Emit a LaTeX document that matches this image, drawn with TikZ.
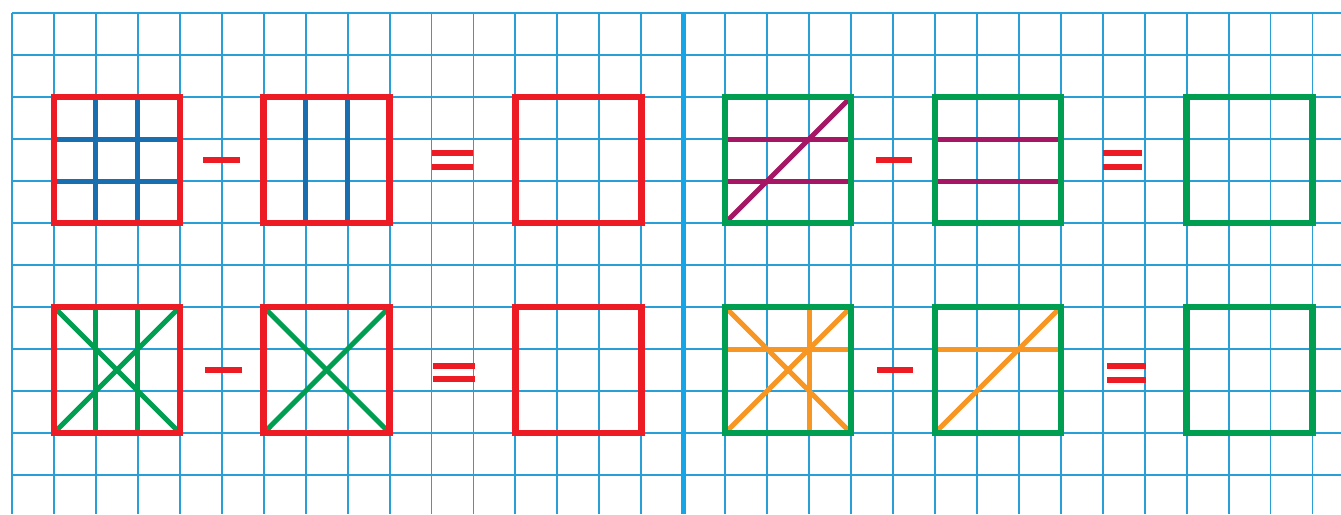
\documentclass[tikz,border=0pt]{standalone}
\usetikzlibrary{calc}
\definecolor{gridc}{RGB}{40,160,215}
\definecolor{divc}{RGB}{22,166,232}
\definecolor{redc}{RGB}{237,28,36}
\definecolor{greenc}{RGB}{0,158,80}
\definecolor{bluec}{RGB}{25,110,175}
\definecolor{magc}{RGB}{165,22,100}
\definecolor{orac}{RGB}{247,150,35}
\tikzset{
  gridline/.style={draw=gridc, line width=1.9pt},
  divider/.style={draw=divc, line width=5pt},
  redbox/.style={draw=redc, line width=6.5pt},
  greenbox/.style={draw=greenc, line width=6.5pt},
  inner/.style={line width=5pt},
  sign/.style={draw=redc, line width=6pt},
}
\begin{document}
\begin{tikzpicture}[x=41.95pt, y=-42pt]
\useasboundingbox (-0.286,-0.3095) rectangle (31.68,11.93);
\fill[white] (-0.286,-0.3095) rectangle (31.68,11.93);
% grid
\foreach \i in {0,...,31} { \draw[gridline] (\i,0) -- (\i,11.93); }
\foreach \j in {0,...,11} { \draw[gridline] (0,\j) -- (31.68,\j); }
\coordinate (dtop) at (16,0);
\coordinate (dbot) at (16,11.93);
\draw[divider] (dtop) -- (dbot);

% ---------- left, row 1 ----------
\coordinate (A1) at (1,2); \coordinate (A2) at (4,5);
\draw[inner, bluec] (2,2) -- (2,5); \draw[inner, bluec] (3,2) -- (3,5);
\draw[inner, bluec] (1,3) -- (4,3); \draw[inner, bluec] (1,4) -- (4,4);
\draw[redbox] (A1) rectangle (A2);
\coordinate (mA1) at (4.56,3.5); \coordinate (mA2) at (5.44,3.5);
\draw[sign] (mA1) -- (mA2);
\coordinate (B1) at (6,2); \coordinate (B2) at (9,5);
\draw[inner, bluec] (7,2) -- (7,5); \draw[inner, bluec] (8,2) -- (8,5);
\draw[redbox] (B1) rectangle (B2);
\coordinate (eA1) at (10,3.333); \coordinate (eA2) at (11,3.333);
\coordinate (eA3) at (10,3.667); \coordinate (eA4) at (11,3.667);
\draw[sign] (eA1) -- (eA2); \draw[sign] (eA3) -- (eA4);
\coordinate (C1) at (12,2); \coordinate (C2) at (15,5);
\draw[redbox] (C1) rectangle (C2);

% ---------- left, row 2 ----------
\coordinate (D1) at (1,7); \coordinate (D2) at (4,10);
\draw[inner, greenc, shorten <=2pt, shorten >=2pt] (1,7) -- (4,10);
\draw[inner, greenc, shorten <=2pt, shorten >=2pt] (1,10) -- (4,7);
\draw[inner, greenc] (2,7) -- (2,10); \draw[inner, greenc] (3,7) -- (3,10);
\draw[redbox] (D1) rectangle (D2);
\coordinate (mD1) at (4.6,8.5); \coordinate (mD2) at (5.48,8.5);
\draw[sign] (mD1) -- (mD2);
\coordinate (E1) at (6,7); \coordinate (E2) at (9,10);
\draw[inner, greenc, shorten <=2pt, shorten >=2pt] (6,7) -- (9,10);
\draw[inner, greenc, shorten <=2pt, shorten >=2pt] (6,10) -- (9,7);
\draw[redbox] (E1) rectangle (E2);
\coordinate (eD1) at (10.03,8.40); \coordinate (eD2) at (11.03,8.40);
\coordinate (eD3) at (10.03,8.72); \coordinate (eD4) at (11.03,8.72);
\draw[sign] (eD1) -- (eD2); \draw[sign] (eD3) -- (eD4);
\coordinate (F1) at (12,7); \coordinate (F2) at (15,10);
\draw[redbox] (F1) rectangle (F2);

% ---------- right, row 1 ----------
\coordinate (G1) at (17,2); \coordinate (G2) at (20,5);
\draw[inner, magc] (17,3) -- (20,3); \draw[inner, magc] (17,4) -- (20,4);
\draw[inner, magc, shorten <=3pt, shorten >=3pt] (17,5) -- (20,2);
\draw[greenbox] (G1) rectangle (G2);
\coordinate (mG1) at (20.6,3.5); \coordinate (mG2) at (21.45,3.5);
\draw[sign] (mG1) -- (mG2);
\coordinate (H1) at (22,2); \coordinate (H2) at (25,5);
\draw[inner, magc] (22,3) -- (25,3); \draw[inner, magc] (22,4) -- (25,4);
\draw[greenbox] (H1) rectangle (H2);
\coordinate (eG1) at (26,3.34); \coordinate (eG2) at (26.93,3.34);
\coordinate (eG3) at (26,3.66); \coordinate (eG4) at (26.93,3.66);
\draw[sign] (eG1) -- (eG2); \draw[sign] (eG3) -- (eG4);
\coordinate (I1) at (28,2); \coordinate (I2) at (31,5);
\draw[greenbox] (I1) rectangle (I2);

% ---------- right, row 2 ----------
\coordinate (J1) at (17,7); \coordinate (J2) at (20,10);
\draw[inner, orac, shorten <=3pt, shorten >=3pt] (17,7) -- (20,10);
\draw[inner, orac, shorten <=3pt, shorten >=3pt] (17,10) -- (20,7);
\draw[inner, orac] (17,8) -- (20,8);
\draw[inner, orac] (19,7) -- (19,10);
\draw[greenbox] (J1) rectangle (J2);
\coordinate (mJ1) at (20.62,8.5); \coordinate (mJ2) at (21.48,8.5);
\draw[sign] (mJ1) -- (mJ2);
\coordinate (K1) at (22,7); \coordinate (K2) at (25,10);
\draw[inner, orac] (22,8) -- (25,8);
\draw[inner, orac, shorten <=3pt, shorten >=3pt] (22,10) -- (25,7);
\draw[greenbox] (K1) rectangle (K2);
\coordinate (eJ1) at (26.1,8.40); \coordinate (eJ2) at (27.03,8.40);
\coordinate (eJ3) at (26.1,8.73); \coordinate (eJ4) at (27.03,8.73);
\draw[sign] (eJ1) -- (eJ2); \draw[sign] (eJ3) -- (eJ4);
\coordinate (L1) at (28,7); \coordinate (L2) at (31,10);
\draw[greenbox] (L1) rectangle (L2);
\end{tikzpicture}
\end{document}
